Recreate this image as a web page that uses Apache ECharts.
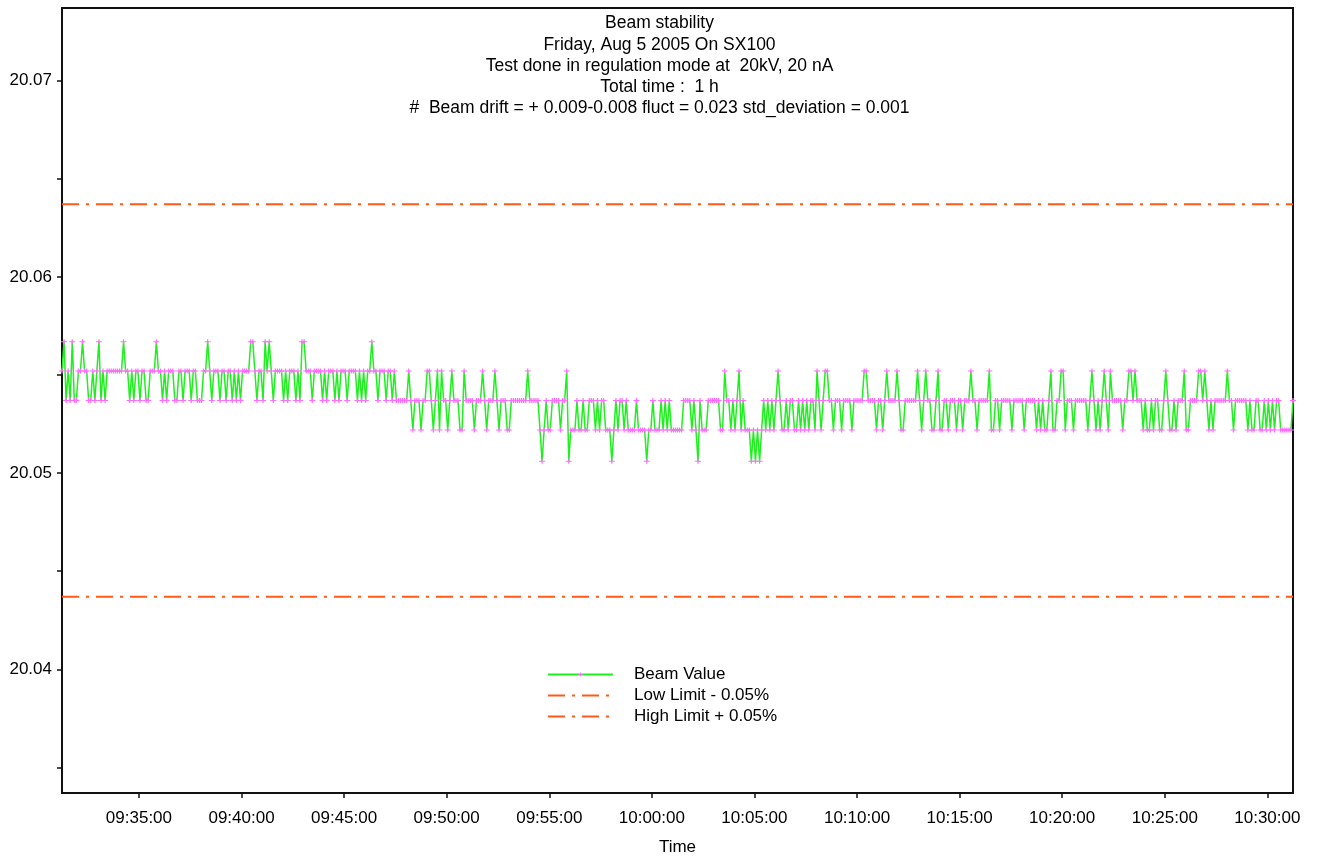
<!DOCTYPE html>
<html><head><meta charset="utf-8">
<script src="https://cdn.jsdelivr.net/npm/echarts@6/dist/echarts.min.js"></script>
<style>html,body{margin:0;padding:0;background:#fff}#chart{width:1319px;height:857px}</style>
</head><body><div id="chart"></div>
<script>
const titleLines = [
  'Beam stability',
  'Friday, Aug 5 2005 On SX100',
  'Test done in regulation mode at  20kV, 20 nA',
  'Total time :  1 h',
  '#  Beam drift = + 0.009-0.008 fluct = 0.023 std_deviation = 0.001'
];
const legendNames = ['Beam Value', 'Low Limit - 0.05%', 'High Limit + 0.05%'];
const sampleStart = '09:31:15';
const axisEnd = '10:31:15';
const sampleStepSeconds = 6;

// Beam value readings, one array per 5 minutes
const beam0931 = [20.0552,20.0567,20.0537,20.0552,20.0537,20.0567,20.0537,20.0537,20.0552,20.0552,
20.0567,20.0552,20.0552,20.0537,20.0537,20.0552,20.0537,20.0552,20.0567,20.0537,
20.0552,20.0537,20.0552,20.0552,20.0552,20.0552,20.0552,20.0552,20.0552,20.0552,
20.0567,20.0552,20.0552,20.0537,20.0552,20.0537,20.0552,20.0552,20.0537,20.0552,
20.0552,20.0537,20.0537,20.0552,20.0552,20.0552,20.0567,20.0552,20.0552,20.0537];
const beam0936 = [20.0552,20.0537,20.0552,20.0552,20.0552,20.0537,20.0537,20.0552,20.0552,20.0537,
20.0552,20.0552,20.0552,20.0537,20.0552,20.0552,20.0537,20.0537,20.0537,20.0552,
20.0552,20.0567,20.0552,20.0537,20.0552,20.0552,20.0552,20.0537,20.0552,20.0552,
20.0537,20.0552,20.0552,20.0537,20.0552,20.0537,20.0552,20.0537,20.0552,20.0552,
20.0552,20.0552,20.0567,20.0567,20.0552,20.0537,20.0552,20.0552,20.0537,20.0567];
const beam0941 = [20.0552,20.0567,20.0552,20.0537,20.0552,20.0552,20.0552,20.0552,20.0537,20.0552,
20.0537,20.0552,20.0552,20.0552,20.0537,20.0552,20.0537,20.0567,20.0567,20.0552,
20.0552,20.0552,20.0537,20.0552,20.0552,20.0552,20.0552,20.0537,20.0552,20.0537,
20.0552,20.0552,20.0552,20.0537,20.0552,20.0537,20.0552,20.0552,20.0552,20.0537,
20.0552,20.0552,20.0552,20.0552,20.0537,20.0552,20.0537,20.0552,20.0537,20.0552];
const beam0946 = [20.0552,20.0567,20.0552,20.0552,20.0537,20.0552,20.0552,20.0552,20.0537,20.0552,
20.0552,20.0537,20.0552,20.0537,20.0537,20.0537,20.0537,20.0537,20.0537,20.0552,
20.0537,20.0522,20.0537,20.0537,20.0537,20.0522,20.0537,20.0537,20.0552,20.0552,
20.0537,20.0522,20.0537,20.0552,20.0522,20.0552,20.0537,20.0537,20.0522,20.0537,
20.0552,20.0537,20.0537,20.0537,20.0522,20.0522,20.0552,20.0537,20.0537,20.0537];
const beam0951 = [20.0537,20.0522,20.0537,20.0537,20.0537,20.0552,20.0537,20.0522,20.0537,20.0537,
20.0537,20.0552,20.0537,20.0522,20.0537,20.0537,20.0537,20.0522,20.0522,20.0537,
20.0537,20.0537,20.0537,20.0537,20.0537,20.0537,20.0537,20.0552,20.0537,20.0537,
20.0537,20.0537,20.0537,20.0522,20.0506,20.0522,20.0537,20.0522,20.0522,20.0537,
20.0537,20.0537,20.0537,20.0522,20.0537,20.0537,20.0552,20.0506,20.0522,20.0522];
const beam0956 = [20.0522,20.0537,20.0522,20.0522,20.0537,20.0522,20.0522,20.0537,20.0537,20.0537,
20.0522,20.0537,20.0522,20.0537,20.0537,20.0522,20.0522,20.0522,20.0506,20.0522,
20.0537,20.0522,20.0537,20.0537,20.0522,20.0537,20.0522,20.0522,20.0522,20.0522,
20.0537,20.0522,20.0522,20.0522,20.0522,20.0506,20.0522,20.0522,20.0537,20.0522,
20.0522,20.0522,20.0537,20.0522,20.0537,20.0522,20.0537,20.0522,20.0522,20.0522];
const beam1001 = [20.0522,20.0522,20.0522,20.0537,20.0537,20.0537,20.0537,20.0522,20.0537,20.0522,
20.0506,20.0537,20.0522,20.0522,20.0522,20.0537,20.0537,20.0537,20.0537,20.0537,
20.0537,20.0522,20.0522,20.0552,20.0537,20.0537,20.0522,20.0537,20.0522,20.0537,
20.0552,20.0522,20.0537,20.0522,20.0522,20.0522,20.0506,20.0522,20.0506,20.0522,
20.0506,20.0522,20.0537,20.0522,20.0537,20.0522,20.0537,20.0522,20.0537,20.0552];
const beam1006 = [20.0537,20.0522,20.0522,20.0537,20.0522,20.0537,20.0537,20.0522,20.0522,20.0537,
20.0522,20.0537,20.0522,20.0537,20.0522,20.0537,20.0537,20.0522,20.0552,20.0537,
20.0522,20.0537,20.0552,20.0552,20.0537,20.0537,20.0522,20.0537,20.0537,20.0537,
20.0522,20.0537,20.0537,20.0537,20.0537,20.0522,20.0537,20.0537,20.0537,20.0537,
20.0537,20.0552,20.0552,20.0537,20.0537,20.0537,20.0537,20.0522,20.0537,20.0537];
const beam1011 = [20.0522,20.0537,20.0552,20.0537,20.0537,20.0537,20.0537,20.0552,20.0537,20.0522,
20.0522,20.0537,20.0537,20.0537,20.0537,20.0537,20.0537,20.0552,20.0537,20.0522,
20.0537,20.0552,20.0537,20.0537,20.0522,20.0522,20.0537,20.0552,20.0522,20.0522,
20.0537,20.0537,20.0522,20.0537,20.0537,20.0537,20.0522,20.0537,20.0537,20.0522,
20.0537,20.0537,20.0537,20.0552,20.0537,20.0537,20.0522,20.0537,20.0537,20.0537];
const beam1016 = [20.0537,20.0537,20.0552,20.0522,20.0522,20.0537,20.0537,20.0522,20.0537,20.0537,
20.0537,20.0537,20.0537,20.0522,20.0537,20.0537,20.0537,20.0537,20.0537,20.0522,
20.0537,20.0537,20.0537,20.0537,20.0537,20.0522,20.0537,20.0522,20.0537,20.0522,
20.0522,20.0537,20.0552,20.0522,20.0522,20.0537,20.0537,20.0552,20.0552,20.0522,
20.0537,20.0537,20.0537,20.0522,20.0537,20.0537,20.0537,20.0537,20.0537,20.0537];
const beam1021 = [20.0522,20.0537,20.0552,20.0537,20.0522,20.0537,20.0522,20.0537,20.0552,20.0537,
20.0522,20.0552,20.0537,20.0537,20.0537,20.0537,20.0537,20.0522,20.0537,20.0537,
20.0552,20.0552,20.0537,20.0552,20.0537,20.0537,20.0537,20.0522,20.0537,20.0522,
20.0522,20.0537,20.0522,20.0537,20.0537,20.0522,20.0522,20.0537,20.0552,20.0537,
20.0522,20.0522,20.0537,20.0522,20.0537,20.0537,20.0537,20.0552,20.0522,20.0522];
const beam1026 = [20.0537,20.0537,20.0537,20.0537,20.0552,20.0552,20.0537,20.0552,20.0537,20.0522,
20.0537,20.0522,20.0537,20.0537,20.0537,20.0537,20.0537,20.0537,20.0552,20.0537,
20.0537,20.0522,20.0537,20.0537,20.0537,20.0537,20.0537,20.0537,20.0522,20.0537,
20.0522,20.0522,20.0537,20.0537,20.0522,20.0522,20.0537,20.0522,20.0537,20.0522,
20.0537,20.0522,20.0537,20.0537,20.0522,20.0522,20.0522,20.0522,20.0522,20.0522,20.0537];

const lowLimit = 20.0437;
const highLimit = 20.0637;
const yMin = 20.0337;
const yMax = 20.0737;
const yLabelValues = [20.04, 20.05, 20.06, 20.07];
const yTickValues = [20.035, 20.04, 20.045, 20.05, 20.055, 20.06, 20.065, 20.07];
const xTickLabels = ['09:35:00','09:40:00','09:45:00','09:50:00','09:55:00','10:00:00',
  '10:05:00','10:10:00','10:15:00','10:20:00','10:25:00','10:30:00'];

function toSec(s) { const p = s.split(':').map(Number); return p[0]*3600 + p[1]*60 + p[2]; }
function fmt(v) {
  const h = Math.floor(v/3600), m = Math.floor((v%3600)/60), s = Math.round(v%60);
  return [h,m,s].map(n => String(n).padStart(2,'0')).join(':');
}

const beamValues = [].concat(beam0931, beam0936, beam0941, beam0946, beam0951, beam0956,
  beam1001, beam1006, beam1011, beam1016, beam1021, beam1026);
const t0 = toSec(sampleStart);
const t1 = toSec(axisEnd);
const beamData = beamValues.map((v, i) => [t0 + i*sampleStepSeconds, v]);
const xTicks = xTickLabels.map(toSec);

const font = 'Liberation Sans, Arial, sans-serif';
const plusPath = 'path://M0,2H2V0H3V2H5V3H3V5H2V3H0Z';
const limitColor = '#ff5a1a';
const limitDash = [17, 7, 3, 7];

const chart = echarts.init(document.getElementById('chart'), null, {renderer: 'canvas'});
chart.setOption({
  animation: false,
  backgroundColor: '#fff',
  title: {
    text: titleLines.join('\n'),
    left: 'center', top: 8,
    textStyle: {fontSize: 17.5, lineHeight: 21.2, fontWeight: 'normal', color: '#000', fontFamily: font}
  },
  legend: {
    orient: 'vertical', left: 542, top: 661,
    itemWidth: 65, itemHeight: 5, itemGap: 4,
    data: [
      {name: legendNames[0]},
      {name: legendNames[1], itemStyle: {opacity: 0}},
      {name: legendNames[2], itemStyle: {opacity: 0}}
    ],
    textStyle: {fontSize: 17, lineHeight: 17, color: '#000', fontFamily: font, padding: [0,0,0,16]}
  },
  grid: {left: 62, right: 26, top: 8, bottom: 64, show: true, borderColor: '#111', borderWidth: 2,
         outerBoundsMode: 'none', containLabel: false},
  xAxis: {
    type: 'value', min: t0, max: t1,
    name: 'Time', nameLocation: 'middle', nameGap: 46,
    nameTextStyle: {fontSize: 17, color: '#000', fontFamily: font},
    axisLine: {onZero: false, lineStyle: {color: '#111', width: 2}},
    axisTick: {customValues: xTicks, length: 5, lineStyle: {color: '#111', width: 1.5}},
    axisLabel: {customValues: xTicks, formatter: v => fmt(v), margin: 17, fontSize: 17, color: '#000', fontFamily: font},
    splitLine: {show: false}
  },
  yAxis: {
    type: 'value', min: yMin, max: yMax,
    axisLine: {show: true, lineStyle: {color: '#111', width: 2}},
    axisTick: {customValues: yTickValues, length: 5, lineStyle: {color: '#111', width: 1.5}},
    axisLabel: {customValues: yLabelValues, formatter: v => v.toFixed(2), margin: 10, fontSize: 17, color: '#000', fontFamily: font},
    splitLine: {show: false}
  },
  series: [
    {
      name: legendNames[0], type: 'line', data: beamData,
      symbol: plusPath, symbolSize: [6, 5], showAllSymbol: true,
      lineStyle: {color: '#1ef01e', width: 1.5},
      itemStyle: {color: '#ff6cff'}, z: 3
    },
    {
      name: legendNames[1], type: 'line', symbol: 'none',
      data: [[t0, lowLimit], [t1, lowLimit]],
      lineStyle: {color: limitColor, width: 2, type: limitDash},
      itemStyle: {color: limitColor}
    },
    {
      name: legendNames[2], type: 'line', symbol: 'none',
      data: [[t0, highLimit], [t1, highLimit]],
      lineStyle: {color: limitColor, width: 2, type: limitDash},
      itemStyle: {color: limitColor}
    }
  ]
});
</script>
</body></html>
